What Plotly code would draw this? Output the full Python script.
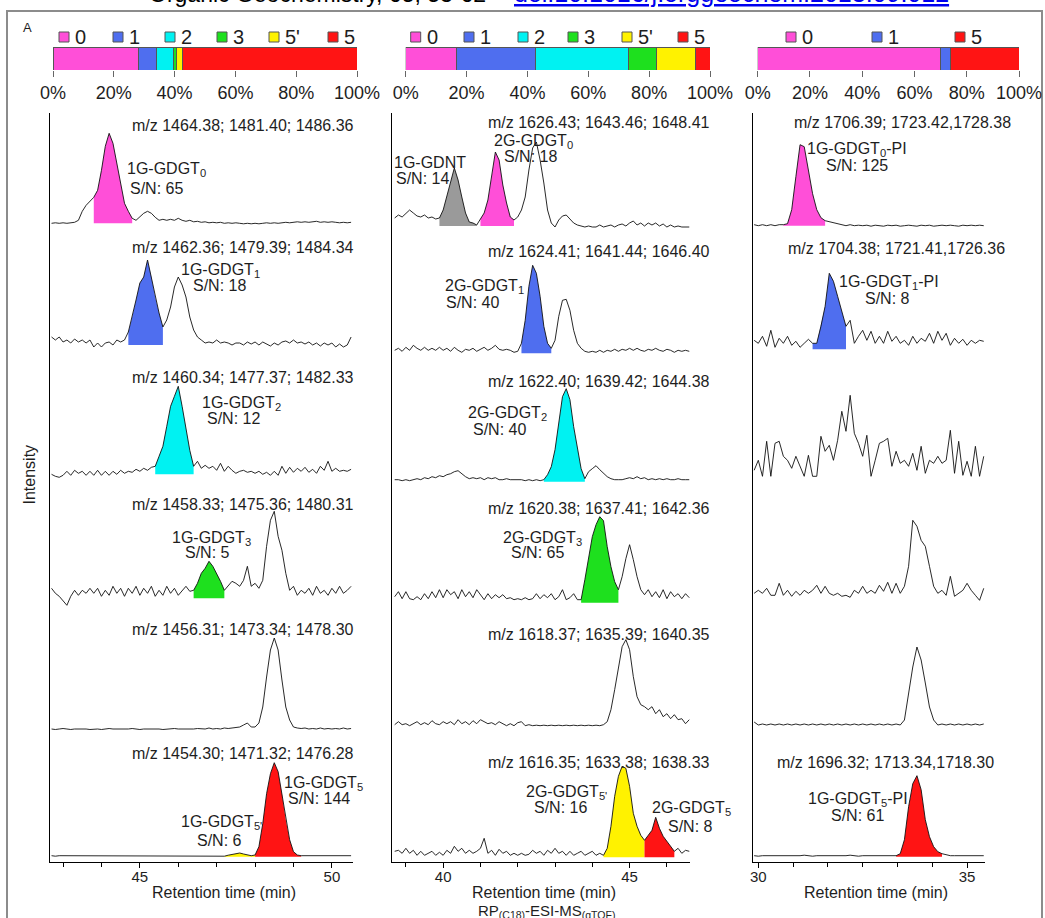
import numpy as np
import plotly.graph_objects as go

W, H = 1045, 918
FONT = "Liberation Sans, Arial, sans-serif"
TXT = "#1e1e1e"

# ---------------- data: composition bars (% of each GDGT class) ----------------
bar_left_classes = ["0", "1", "2", "3", "5'", "5"]
bar_left_pct = [28.0, 6.2, 5.3, 1.2, 1.8, 57.5]
bar_mid_classes = ["0", "1", "2", "3", "5'", "5"]
bar_mid_pct = [16.8, 26.0, 30.4, 9.1, 13.0, 4.7]
bar_right_classes = ["0", "1", "5"]
bar_right_pct = [70.1, 3.6, 26.3]
pct_ticks = [0, 20, 40, 60, 80, 100]

# ---------------- data: chromatograms (relative intensity) ----------------
# retention-time sampling of each column (min)
left_t0, left_dt = 42.7, 0.1
mid_t0, mid_dt = 38.7, 0.1
right_t0, right_dt = 29.9, 0.1

left_mz = ["m/z 1464.38; 1481.40; 1486.36", "m/z 1462.36; 1479.39; 1484.34",
           "m/z 1460.34; 1477.37; 1482.33", "m/z 1458.33; 1475.36; 1480.31",
           "m/z 1456.31; 1473.34; 1478.30", "m/z 1454.30; 1471.32; 1476.28"]
mid_mz = ["m/z 1626.43; 1643.46; 1648.41", "m/z 1624.41; 1641.44; 1646.40",
          "m/z 1622.40; 1639.42; 1644.38", "m/z 1620.38; 1637.41; 1642.36",
          "m/z 1618.37; 1635.39; 1640.35", "m/z 1616.35; 1633.38; 1638.33"]
right_mz = ["m/z 1706.39; 1723.42,1728.38", "m/z 1704.38; 1721.41,1726.36",
            "m/z 1696.32; 1713.34,1718.30"]

left_gdgt0 = [0, 0.5, 0, 0.5, 0, 0.5, 1, 3, 12, 18,
              22, 26, 33, 53, 77, 90, 80, 60, 37, 20,
              12, 5, 3, 7, 10, 12, 10, 6, 3, 4,
              3, 4, 3, 5, 3, 2, 3, 1.5, 2, 1,
              1.5, 0.5, 1, 0.5, 1, 0, 0.5, 0, 0.5, 0,
              -0.5, 0, -0.5, 0, -0.5, 0, 0.5, 0, 0.5, 0,
              0.5, 1, 0.5, 1, 1.5, 1, 1.5, 1, 1.5, 2,
              1, 1.5, 1, 1.5, 1, 0.5, 1, 0.5, 1]
left_gdgt1 = [8, 5, 8, 3, 5, 2, 6, 3, 5, 2,
              5, -2, 2, -2, 2, 3, 0, 5, 3, 5,
              13, 28, 45, 62, 68, 85, 68, 48, 32, 18,
              25, 38, 58, 68, 60, 48, 28, 15, 8, 5,
              2, 3, 2, 5, 2, 3, 2, 0, 2, 2,
              0, 3, 1, 3, 0, 3, 1, -1, 2, 0,
              3, 4, 2, 5, 2, 3, 1, 3, 0, 2,
              -1, 2, 0, 2, -2, 1, -2, 0, 8]
left_gdgt2 = [0, -2, -3, -1, 3, -1, 4, 1, 3, -1,
              3, -1, 4, -1, 3, -1, 3, 0, 4, 1,
              3, 2, 5, 3, 6, 4, 7, 8, 18, 28,
              48, 68, 78, 88, 68, 44, 24, 8, 13, 6,
              9, 6, 8, 4, 11, 3, 8, 4, 1, 3,
              4, 2, 3, 1, 3, 0, 2, -1, 3, -1,
              8, 1, 7, 2, 6, 3, 7, 2, 5, 1,
              8, 4, 13, 3, 6, 3, 4, 3, 5]
left_gdgt3 = [10, 5, 2, -3, -7, 2, 8, 3, 8, 5,
              10, 5, 10, 2, 8, 3, 12, 5, 10, 2,
              10, 5, 12, 3, 10, 5, 12, 2, 8, 3,
              12, 5, 10, 3, 8, 12, 7, 8, 15, 25,
              30, 37, 32, 25, 17, 8, 12, 17, 15, 12,
              18, 32, 12, 15, 10, 18, 52, 78, 87, 62,
              48, 25, 8, 12, 3, 8, 5, 10, 3, 12,
              5, 8, 3, 10, 5, 12, 5, 8, 12]
left_gdgt4 = [1, 0.5, 1, 1.5, 1, 0.5, 1, 1, 1.5, 1,
              0.5, 1, 1, 0.5, 1, 1.5, 1, 1, 0.5, 1,
              1, 1.5, 1, 0.5, 1, 1, 1.5, 1, 1, 0.5,
              1, 1, 1.5, 1, 1, 0.5, 1, 1, 1.5, 1,
              1, 2, 1, 1.5, 1, 2, 1.5, 2, 2.5, 3,
              5, 7, 3, 3, 7, 23, 53, 80, 92, 80,
              50, 23, 10, 3, 2, 1.5, 2, 1, 1.5, 1,
              2, 1, 1.5, 1, 1.5, 1, 2, 1, 1.5]
left_gdgt5 = [1, 0.5, 1, 1, 0.5, 1, 1, 0.5, 1, 1,
              0.5, 1, 1, 0.5, 1, 1, 0.5, 1, 1, 0.5,
              1, 1, 0.5, 1, 1, 0.5, 1, 1, 0.5, 1,
              1, 0.5, 1, 1, 0.5, 1, 1, 0.5, 1, 1,
              0.5, 1, 1, 0.5, 1, 0.5, 1.5, 2, 3, 3.7,
              2.7, 1.7, 1, 1.7, 10, 33, 63, 83, 94, 85,
              63, 37, 17, 5, 1.7, 1, 1, 0.5, 1, 1,
              0.5, 1, 1, 0.5, 1, 1, 0.5, 1, 1]

mid_gdgt0 = [8, 11, 9, 13, 16, 13, 10, 9, 11, 8,
             9, 7, 8, 16, 29, 44, 58, 46, 29, 13,
             4, 3, 1, 7, 13, 26, 49, 74, 66, 41,
             23, 9, 6, 9, 16, 29, 56, 78, 84, 66,
             43, 16, 3, -1, 6, 10, 11, 7, 3, 1,
             0, -1, 0, -1, -1, 1, -1, 0, 1, -1,
             1, 2, 0, 3, 5, 1, 3, 0, 3, 1,
             3, 0, 2, -1, 1, -1, 0, -1, -1, -1]
mid_gdgt1 = [3, 5, 2, 6, 3, 8, 5, 3, 6, 3,
             5, 3, 6, 3, 5, 2, 6, 3, 1, 4,
             3, 5, 2, 4, 6, 3, 5, 8, 4, 3,
             4, 3, 1, 2, 10, 33, 67, 88, 80, 57,
             27, 10, 5, 13, 37, 53, 54, 43, 23, 10,
             5, 2, 1, 2, 1, 3, 1, 3, 2, 4,
             2, 4, 3, 5, 3, 5, 3, 2, 4, 3,
             5, 3, 2, 4, 3, 1, 3, 2, 3, 2]
mid_gdgt2 = [2, 2, 1, 2, 1, 2, 3, 2, 4, 3,
             5, 4, 6, 5, 7, 8, 10, 11, 8, 5,
             3, 4, 3, 4, 2, 4, 3, 4, 2, 2,
             3, 2, 2, 2, 2, 1, 2, 1, 2, 1,
             2, 7, 15, 32, 58, 85, 93, 82, 55, 32,
             13, 3, 10, 13, 16, 12, 8, 5, 3, 2,
             2, 2, 3, 4, 3, 5, 3, 4, 2, 3,
             2, 3, 2, 3, 2, 2, 3, 2, 2, 2]
mid_gdgt3 = [6, 11, 4, 11, 4, 3, 6, 3, 9, 4,
             11, 5, 13, 5, 13, 8, 11, 4, 13, 6,
             11, 5, 13, 8, 3, 9, 4, 8, 5, 8,
             4, 5, 3, 4, 3, 5, 3, 4, 9, 4,
             8, 5, 9, 3, 6, 13, 3, 5, 9, 3,
             3, 23, 43, 66, 78, 86, 82, 56, 36, 21,
             13, 26, 44, 58, 43, 26, 13, 8, 13, 6,
             11, 5, 13, 4, 11, 6, 9, 4, 9, 5]
mid_gdgt4 = [2, 5, 2, 3, 1, 3, 5, 2, 4, 2,
             6, 3, 2, 5, 3, 5, 2, 7, 3, 5,
             2, 6, 3, 7, 5, 3, 4, 2, 5, 3,
             1, 3, 1, 4, 5, 1, 2, 1, 1.5, 1,
             1.5, 1, 1.5, 1, 1.5, 1, 1.5, 1, 1.5, 1,
             1.5, 1, 1.5, 1, 1.5, 1, 2, 5, 17, 37,
             60, 80, 87, 77, 50, 30, 22, 20, 17, 20,
             13, 17, 10, 13, 8, 12, 7, 8, 3, 7]
mid_gdgt5 = [6, 7, 4, 9, 4, 7, 2, 6, 2, 4,
             6, 2, 5, 2, 7, 4, 11, 6, 9, 4,
             7, 4, 6, 9, 19, 4, 7, 2, 8, 4,
             6, 2, 4, 2, 4, 2, 3, 7, 4, 6,
             2, 7, 4, 9, 4, 6, 2, 6, 2, 4,
             6, 2, 4, 6, 2, 4, 2, 9, 31, 61,
             81, 91, 89, 71, 44, 31, 22, 17, 22, 27,
             40, 29, 21, 16, 11, 6, 9, 4, 7, 6]

right_gdgt0_pi = [1, 0, 1, 0, 1, 0, 1, 1, 2, 16,
                  49, 81, 79, 56, 32, 16, 8, 5, 4, 3,
                  2, 1, 0, 1, 0, 0.5, 0, 0.5, -0.5, 0.5,
                  0, -0.5, 0.5, 0, 0.5, -0.5, 0, 0.5, 0, -0.5,
                  0.5, 0, 0.5, -0.5, 0, 0.5, 0, 0.5, 0, -0.5,
                  0.5, 0, 0.5, 0, 0.5, 0]
right_gdgt1_pi = [9, 6, 13, 3, 19, 2, 11, 6, 13, 4,
                  8, 2, 6, 10, 6, 6, 23, 43, 76, 68,
                  53, 39, 23, 29, 6, 13, 19, 9, 18, 6,
                  13, 6, 18, 8, 13, 6, 9, 4, 13, 6,
                  11, 8, 16, 6, 18, 9, 16, 4, 11, 6,
                  10, 4, 9, 6, 9, 8]
right_gdgt2_pi = [7, 17, 1, 36, 1, 34, 36, 21, 17, 9,
                  21, 11, 1, 22, 1, 1, 41, 26, 32, 17,
                  37, 66, 46, 82, 44, 34, 21, 42, 1, 17,
                  34, 36, 39, 11, 26, 14, 17, 11, 24, 7,
                  31, 4, 17, 14, 21, 14, 17, 47, 4, 36,
                  2, 16, 1, 31, 1, 21]
right_gdgt3_pi = [4, 7, 4, 9, 2, 2, 14, 2, 7, 1,
                  6, 2, 7, 4, 7, 12, 4, 11, 4, 2,
                  4, 1, 2, 0, 7, 4, 11, 4, 7, 4,
                  12, 6, 15, 4, 14, 4, 11, 31, 77, 71,
                  57, 51, 31, 11, 4, 7, 2, 21, 1, 4,
                  7, 14, 7, 2, -3, 9]
right_gdgt4_pi = [4, 1, 2, 1, 2, 1, 2, 1, 2, 1,
                  2, 1, 2, 1, 2, 1, 2, 1, 2, 1,
                  2, 1, 2, 1, 2, 1, 2, 1, 2, 1,
                  2, 1, 2, 1, 2, 1, 6, 33, 59, 79,
                  66, 43, 19, 6, 1, 2, 1, 2, 1, 2,
                  1, 2, 1, 2, 1, 2]
right_gdgt5_pi = [1, 0.5, 1, 1, 0.5, 1, 1, 0.5, 1, 1,
                  0.5, 1, 1.5, 1, 0.5, 1, 1, 0.5, 1, 1,
                  0.5, 1, 1, 1.5, 1, 0.5, 1, 1, 0.5, 1,
                  1, 0.5, 1, 1, 1, 3, 17, 50, 73, 81,
                  67, 37, 20, 10, 5, 3, 2, 1, 1, 1,
                  0.5, 1, 1, 0.5, 1, 1]

# integrated peak windows (start, end, class)
left_windows = [[(43.8, 44.8, "0")], [(44.7, 45.6, "1")], [(45.4, 46.4, "2")],
                [(46.4, 47.2, "3")], [], [(47.2, 48.0, "5'"), (48.0, 49.2, "5")]]
mid_windows = [[(39.9, 40.9, "GDNT"), (41.0, 41.9, "0")], [(42.1, 42.9, "1")],
               [(42.7, 43.8, "2")], [(43.7, 44.7, "3")], [],
               [(44.3, 45.4, "5'"), (45.4, 46.2, "5")]]
right_windows = [[(30.6, 31.6, "0")], [(31.3, 32.1, "1")], [], [], [], [(33.3, 34.4, "5")]]

# peak names and signal-to-noise
left_peaks = [("1G-GDGT<sub>0</sub>", 65), ("1G-GDGT<sub>1</sub>", 18), ("1G-GDGT<sub>2</sub>", 12),
              ("1G-GDGT<sub>3</sub>", 5), ("1G-GDGT<sub>5</sub>", 144), ("1G-GDGT<sub>5'</sub>", 6)]
mid_peaks = [("1G-GDNT", 14), ("2G-GDGT<sub>0</sub>", 18), ("2G-GDGT<sub>1</sub>", 40),
             ("2G-GDGT<sub>2</sub>", 40), ("2G-GDGT<sub>3</sub>", 65), ("2G-GDGT<sub>5'</sub>", 16),
             ("2G-GDGT<sub>5</sub>", 8)]
right_peaks = [("1G-GDGT<sub>0</sub>-PI", 125), ("1G-GDGT<sub>1</sub>-PI", 8),
               ("1G-GDGT<sub>5</sub>-PI", 61)]

# ---------------- style / layout (pixels) ----------------
CLR = {"0": "#FF4FD8", "1": "#4F6EEF", "2": "#00F2F2", "3": "#1EE01E",
       "5'": "#FFF200", "5": "#FF1414", "GDNT": "#9A9A9A"}

BAR_TOP, BAR_BOT = 47, 70
bar_px = [(53, 357), (405.7, 710), (757.7, 1019)]
legend_sq_left = [[59, 113, 165, 217, 269, 328],
                  [410.7, 464, 518, 568, 622, 678],
                  [786, 872, 955]]

Y_TOP, Y_BOT = 113, 862
col_px = [(50, 353), (391.7, 690), (753.3, 985)]
col_rng = [(42.66, 50.55), (38.62, 46.62), (29.88, 35.43)]
col_minor = [dict(dtick=1, tick0=0), dict(dtick=1, tick0=0), dict(dtick=5 / 6, tick0=30)]
baselines_px = [[223.3, 345, 474.3, 598.3, 730, 856.7],
                [226, 353.3, 481.7, 602.7, 726.7, 857.3],
                [225.7, 349.3, 477.3, 597.3, 726, 856.7]]

mz_pos = [[(356, 125), (356, 247), (356, 377), (356, 504), (356, 629), (356, 753)],
          [(712, 122), (712, 251), (712, 381), (712, 508), (712, 634), (712, 762)],
          [(1013, 122), (1007, 248), (996, 762)]]
peak_pos = [[((166, 170), (156, 189)), ((220, 270), (219, 285)), ((241, 403), (233, 418)),
             ((211, 538), (207, 552)), ((323, 783), (319, 798)), ((221, 822), (219, 840))],
            [((430, 162), (422, 178)), ((533, 141), (530, 156)), ((484, 286), (472, 303)),
             ((507, 413), (499, 430)), ((542, 538), (537, 552)), ((566, 792), (560, 807)),
             ((691, 808), (690, 826))],
            [((857, 149), (857, 165)), ((889, 282), (887, 298)), ((858, 799), (857, 815))]]

bars = [(bar_left_classes, bar_left_pct), (bar_mid_classes, bar_mid_pct),
        (bar_right_classes, bar_right_pct)]
chrom = [(left_t0, left_dt, [left_gdgt0, left_gdgt1, left_gdgt2, left_gdgt3, left_gdgt4, left_gdgt5], left_windows),
         (mid_t0, mid_dt, [mid_gdgt0, mid_gdgt1, mid_gdgt2, mid_gdgt3, mid_gdgt4, mid_gdgt5], mid_windows),
         (right_t0, right_dt, [right_gdgt0_pi, right_gdgt1_pi, right_gdgt2_pi, right_gdgt3_pi,
                               right_gdgt4_pi, right_gdgt5_pi], right_windows)]


def px(x):
    return x / W


def py(y):
    return 1 - y / H


fig = go.Figure()
layout = dict(width=W, height=H, autosize=False,
              margin=dict(l=0, r=0, t=0, b=0, pad=0, autoexpand=False),
              paper_bgcolor="white", plot_bgcolor="rgba(0,0,0,0)",
              showlegend=False, barmode="stack", font=dict(family=FONT, color=TXT))
shapes, annotations = [], []


def ann(text, x, y, size=16, xanchor="center", yanchor="middle", color=TXT, **kw):
    annotations.append(dict(text=text, x=px(x), y=py(y), xref="paper", yref="paper",
                            showarrow=False, xanchor=xanchor, yanchor=yanchor,
                            font=dict(size=size, color=color, family=FONT), **kw))


# ---------- composition bars ----------
for c, (classes, vals) in enumerate(bars):
    sfx = "" if c == 0 else str(c + 1)
    for cls, v in zip(classes, vals):
        fig.add_trace(go.Bar(x=[v], y=[0], orientation="h", width=1,
                             marker=dict(color=CLR[cls], line=dict(color="#555555", width=1)),
                             xaxis="x" + sfx, yaxis="y" + sfx, hoverinfo="skip"))
    x0, x1 = bar_px[c]
    layout["xaxis" + sfx] = dict(domain=[px(x0), px(x1)], range=[0, 100], anchor="y" + sfx,
                                 tickvals=pct_ticks, ticktext=[f"{v}%" for v in pct_ticks],
                                 ticks="outside", ticklen=6, tickcolor="#666666",
                                 tickfont=dict(size=18, color=TXT, family=FONT),
                                 showline=False, showgrid=False, zeroline=False, automargin=False)
    layout["yaxis" + sfx] = dict(domain=[py(BAR_BOT), py(BAR_TOP)], range=[-0.5, 0.5],
                                 anchor="x" + sfx, showticklabels=False, ticks="",
                                 showline=False, showgrid=False, zeroline=False, automargin=False)
    # legend
    for cls, left in zip(classes, legend_sq_left[c]):
        shapes.append(dict(type="rect", xref="paper", yref="paper",
                           x0=px(left), x1=px(left + 10), y0=py(42), y1=py(32),
                           fillcolor=CLR[cls], line=dict(color="#555555", width=1)))
        ann(cls, left + 14, 37.5, size=20, xanchor="left")

# ---------- chromatograms ----------
for c, (t0, dt, traces, windows) in enumerate(chrom):
    xa, ya = f"x{c + 4}", f"y{c + 4}"
    for k, vals in enumerate(traces):
        v = np.asarray(vals, dtype=float)
        t = t0 + dt * np.arange(len(v))
        off = Y_BOT - baselines_px[c][k]
        for (a, b, cls) in windows[k]:
            m = (t >= a - 1e-6) & (t <= b + 1e-6)
            tx, ty = t[m], v[m] + off
            fig.add_trace(go.Scatter(x=np.r_[tx[0], tx, tx[-1]], y=np.r_[off, ty, off],
                                     mode="lines", fill="toself", fillcolor=CLR[cls],
                                     line=dict(width=0), xaxis=xa, yaxis=ya, hoverinfo="skip"))
        fig.add_trace(go.Scatter(x=t, y=v + off, mode="lines",
                                 line=dict(color="#111111", width=0.9),
                                 xaxis=xa, yaxis=ya, hoverinfo="skip"))
    x0, x1 = col_px[c]
    layout[f"xaxis{c + 4}"] = dict(domain=[px(x0), px(x1)], range=list(col_rng[c]), anchor=ya,
                                   showline=True, linecolor="black", linewidth=1,
                                   ticks="outside", ticklen=5, tickwidth=1, tickcolor="black",
                                   tick0=0, dtick=5, tickfont=dict(size=15, color=TXT, family=FONT),
                                   ticklabelstandoff=-4,
                                   showgrid=False, zeroline=False, automargin=False,
                                   minor=dict(ticks="outside", ticklen=4, tickwidth=1,
                                              tickcolor="black", showgrid=False, **col_minor[c]))
    layout[f"yaxis{c + 4}"] = dict(domain=[py(Y_BOT), py(Y_TOP)], range=[0, Y_BOT - Y_TOP],
                                   anchor=xa, showline=True, linecolor="black", linewidth=1,
                                   ticks="", showticklabels=False, showgrid=False, zeroline=False,
                                   automargin=False)

# m/z labels
for c, mzs in enumerate([left_mz, mid_mz, right_mz]):
    for text, (x, y) in zip(mzs, mz_pos[c]):
        ann(text, x, y, xanchor="right")

# peak labels
for c, peaks in enumerate([left_peaks, mid_peaks, right_peaks]):
    for (name, sn), ((nx, ny), (sx, sy)) in zip(peaks, peak_pos[c]):
        ann(name, nx, ny)
        ann(f"S/N: {sn}", sx, sy)

# axis titles and panel text
for xc in (224, 544, 876):
    ann("Retention time (min)", xc, 892)
ann("RP<sub>(C18)</sub>-ESI-MS<sub>(qTOF)</sub>", 546, 911, size=15)
ann("Intensity", 28.5, 475, textangle=-90)
ann("A", 27, 27, size=13)

# cut header line and outer frame
ann("Organic Geochemistry, 65, 53-62", 147, 9, size=23, xanchor="left", yanchor="bottom",
    color="#000000")
ann("<u>doi:10.1016/j.orggeochem.2013.09.012</u>", 512, 9, size=25, xanchor="left",
    yanchor="bottom", color="#0000EE")
shapes.append(dict(type="rect", xref="paper", yref="paper", x0=px(7), x1=px(1042),
                   y0=-0.05, y1=py(11), line=dict(color="#8C8C8C", width=2),
                   fillcolor="rgba(0,0,0,0)", layer="below"))

layout["shapes"] = shapes
layout["annotations"] = annotations
fig.update_layout(**layout)
fig.write_html("out.html")
